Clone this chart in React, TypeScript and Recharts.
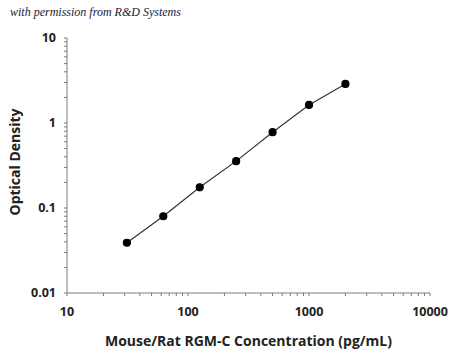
import { LineChart, Line, XAxis, YAxis, Label } from "recharts";

const concentrations = [31.25, 62.5, 125, 250, 500, 1000, 2000];
const opticalDensity = [0.039, 0.08, 0.175, 0.356, 0.78, 1.63, 2.88];

const xTicks = [
  10, 20, 30, 40, 50, 60, 70, 80, 90,
  100, 200, 300, 400, 500, 600, 700, 800, 900,
  1000, 2000, 3000, 4000, 5000, 6000, 7000, 8000, 9000, 10000,
];
const yTicks = [
  0.01, 0.02, 0.03, 0.04, 0.05, 0.06, 0.07, 0.08, 0.09,
  0.1, 0.2, 0.3, 0.4, 0.5, 0.6, 0.7, 0.8, 0.9,
  1, 2, 3, 4, 5, 6, 7, 8, 9, 10,
];
const xMajor = [10, 100, 1000, 10000];
const yMajor = [0.01, 0.1, 1, 10];

const data = concentrations.map((c, i) => ({ conc: c, od: opticalDensity[i] }));

const font = "'Open Sans', 'Liberation Sans', sans-serif";
const axisColor = "#7a7a7a";

const XTick = (props: any) => {
  const { x, y, payload } = props;
  if (!xMajor.includes(payload.value)) return null;
  return (
    <text x={x} y={y + 18} textAnchor="middle" fontFamily={font} fontWeight={700} fontSize={12.5} fill="#222">
      {payload.value}
    </text>
  );
};

const YTick = (props: any) => {
  const { x, y, payload } = props;
  if (!yMajor.includes(payload.value)) return null;
  return (
    <text x={x} y={y + 4} textAnchor="end" fontFamily={font} fontWeight={700} fontSize={12.5} fill="#222">
      {payload.value}
    </text>
  );
};

export default function App() {
  return (
    <div style={{ position: "absolute", left: 0, top: 0, width: 450, height: 350, background: "#fff" }}>
      <div
        style={{
          position: "absolute",
          left: 10,
          top: 5,
          fontFamily: "'Liberation Serif', 'DejaVu Serif', serif",
          fontStyle: "italic",
          fontSize: 12,
          color: "#1a1a3a",
        }}
      >
        with permission from R&amp;D Systems
      </div>
      <LineChart width={450} height={350} data={data} margin={{ top: 38, right: 20, left: 0, bottom: 0 }}>
        <XAxis
          dataKey="conc"
          type="number"
          scale="log"
          domain={[10, 10000]}
          ticks={xTicks}
          interval={0}
          allowDataOverflow
          height={57}
          stroke={axisColor}
          tickSize={3}
          tick={<XTick />}
        >
          <Label
            value="Mouse/Rat RGM-C Concentration (pg/mL)"
            position="insideBottom"
            offset={4}
            style={{ fontFamily: font, fontWeight: 700, fontSize: 14, fill: "#222" }}
          />
        </XAxis>
        <YAxis
          dataKey="od"
          type="number"
          scale="log"
          domain={[0.01, 10]}
          ticks={yTicks}
          interval={0}
          allowDataOverflow
          width={67}
          stroke={axisColor}
          tickSize={3}
          tickMargin={8}
          tick={<YTick />}
        >
          <Label
            content={() => (
              <text
                x={20}
                y={162}
                transform="rotate(-90 20 162)"
                textAnchor="middle"
                fontFamily={font}
                fontWeight={700}
                fontSize={14}
                fill="#222"
              >
                Optical Density
              </text>
            )}
          />
        </YAxis>
        <Line
          dataKey="od"
          type="linear"
          stroke="#333"
          strokeWidth={1.2}
          dot={{ r: 3.5, fill: "#000", stroke: "#000" }}
          isAnimationActive={false}
        />
      </LineChart>
    </div>
  );
}
